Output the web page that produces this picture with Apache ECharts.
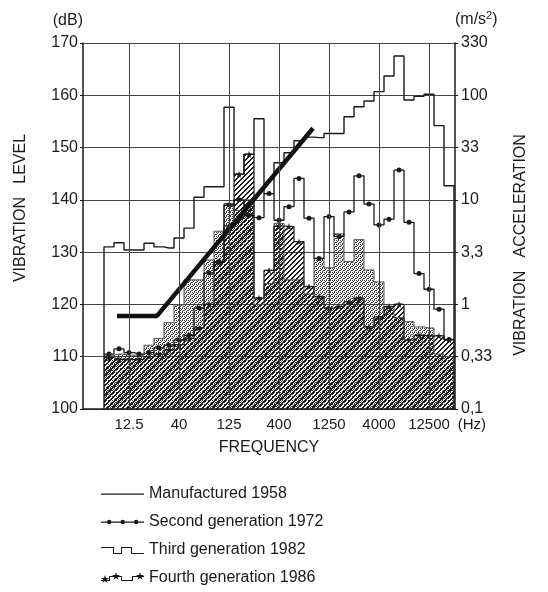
<!DOCTYPE html>
<html>
<head>
<meta charset="utf-8">
<script src="https://cdn.jsdelivr.net/npm/echarts@6/dist/echarts.min.js"></script>
<style>
  html, body { margin: 0; padding: 0; background: #fff; }
  #chart { width: 548px; height: 592px; }
</style>
</head>
<body>
<div id="chart"></div>
<script>
// 1/3 octave band numbers, centre freq = 10^(n/10) Hz  (8 Hz .. 20 kHz)
var bands = [9, 10, 11, 12, 13, 14, 15, 16, 17, 18, 19, 20, 21, 22, 23, 24, 25, 26,
  27, 28, 29, 30, 31, 32, 33, 34, 35, 36, 37, 38, 39, 40, 41, 42, 43]
var tickBands = [11, 16, 21, 26, 31, 36, 41]
var tickLabels = ['12.5', '40', '125', '400', '1250', '4000', '12500']
var freqUnit = '(Hz)'
var accelLabels = ['0,1', '0,33', '1', '3,3', '10', '33', '100', '330']

// levels in dB per band
var manufactured1958 = [131.0, 131.8, 130.4, 130.4, 131.7, 131.0, 130.8, 132.7, 134.6, 140.5,
  142.5, 142.5, 157.7, 144.9, 148.7, 155.5, 141.2, 147.1, 149.0, 151.3,
  152.0, 151.9, 152.7, 152.7, 155.9, 157.8, 158.9, 160.7, 163.7, 167.5,
  159.1, 159.8, 160.2, 154.2, 142.7]
var second1972 = [110.5, 111.5, 110.8, 110.5, 110.8, 111.7, 112.2, 113.2, 114.1, 119.3,
  126.0, 128.2, 139.0, 140.0, 137.0, 136.6, 141.2, 136.1, 138.7, 144.1,
  136.5, 128.8, 136.8, 133.0, 137.7, 144.6, 139.2, 135.2, 136.3, 145.7,
  135.7, 125.9, 122.9, 119.1, 113.3]
var third1982 = [110.3, 110.5, 110.3, 110.3, 112.2, 113.5, 116.5, 119.9, 124.7, 124.7,
  128.5, 134.0, 139.3, 138.0, 140.0, 120.0, 124.0, 135.5, 124.7, 124.7,
  122.0, 128.8, 127.0, 133.5, 128.2, 132.4, 126.6, 124.3, 119.5, 117.5,
  116.7, 115.7, 115.5, 110.5, 110.0]
var fourth1986 = [109.8, 109.5, 109.5, 109.5, 110.0, 110.5, 111.3, 112.3, 113.5, 115.5,
  120.0, 128.0, 135.0, 144.9, 148.7, 121.2, 126.5, 135.0, 134.9, 132.0,
  123.4, 121.5, 119.3, 119.6, 120.5, 121.2, 115.7, 117.6, 119.6, 120.0,
  113.2, 114.1, 114.0, 114.0, 113.2]

// bold straight line
var limitBands = [9.8, 13.8, 29.4]
var limitLevels = [117.8, 117.8, 153.7]

var yMin = 100
var yMax = 170

// fill patterns
function makePattern(size, draw) {
  var c = document.createElement('canvas')
  c.width = size
  c.height = size
  var ctx = c.getContext('2d')
  draw(ctx, size)
  return { image: c, repeat: 'repeat' }
}
var stipple = makePattern(4, function(ctx) {
  ctx.fillStyle = '#333'
  var dots = [[0, 0], [2, 0], [1, 1], [3, 2], [0, 2], [2, 3]]
  dots.forEach(function(d) { ctx.fillRect(d[0], d[1], 1, 1) })
})
var hatch = makePattern(5, function(ctx, s) {
  ctx.fillStyle = '#1a1a1a'
  for (var i = 0; i < s; i++) {
    ctx.fillRect(i, s - 1 - i, 1, 1)
    ctx.fillRect((i + 1) % s, s - 1 - i, 1, 1)
  }
})

function stepData(values, closed) {
  var first = bands[0] - 0.5
  var last = bands[bands.length - 1] + 0.5
  var pts = []
  if (closed) pts.push({ value: [first, yMin], symbol: 'none' })
  pts.push({ value: [first, values[0]], symbol: 'none' })
  bands.forEach(function(b, i) { pts.push([b, values[i]]) })
  pts.push({ value: [last, values[values.length - 1]], symbol: 'none' })
  if (closed) pts.push({ value: [last, yMin], symbol: 'none' })
  return pts
}

var star = 'path://M50,0 L61,35 L98,35 L68,57 L79,91 L50,70 L21,91 L32,57 L2,35 L39,35 Z'
var frame = 'M0,0 L0,0 M43,12 L43,12 '
var icons = {
  line: 'path://' + frame + 'M0,5.5 L43,5.5 L43,6.7 L0,6.7 Z',
  dots: 'path://' + frame + 'M0,5.5 L43,5.5 L43,6.7 L0,6.7 Z ' +
    'M6,6 a2.2,2.2 0 1,1 4.4,0 a2.2,2.2 0 1,1 -4.4,0 ' +
    'M19.5,6 a2.2,2.2 0 1,1 4.4,0 a2.2,2.2 0 1,1 -4.4,0 ' +
    'M33,6 a2.2,2.2 0 1,1 4.4,0 a2.2,2.2 0 1,1 -4.4,0',
  steps: 'path://' + frame + 'M0,3 L13,3 L13,9 L20,9 L20,3 L31,3 L31,9 L43,9 L43,10 L30,10 L30,4 L21,4 L21,10 L12,10 L12,4 L0,4 Z',
  stars: 'path://' + frame + 'M0,8 L8,8 L8,4 L21,4 L21,8 L31,8 L31,4 L43,4 L43,5 L32,5 L32,9 L20,9 L20,5 L9,5 L9,9 L0,9 Z ' +
    'M4,3 L5,6 L8,6 L5.5,8 L6.5,11 L4,9 L1.5,11 L2.5,8 L0,6 L3,6 Z ' +
    'M15,0 L16,3 L19,3 L16.5,5 L17.5,8 L15,6 L12.5,8 L13.5,5 L11,3 L14,3 Z ' +
    'M39,0 L40,3 L43,3 L40.5,5 L41.5,8 L39,6 L36.5,8 L37.5,5 L35,3 L38,3 Z'
}

var font = 'Liberation Sans'
var ink = '#1a1a1a'

var chart = echarts.init(document.getElementById('chart'))

var option = {
  animation: false,
  textStyle: { fontFamily: font, color: ink },
  grid: { left: 83, right: 93, top: 43, bottom: 183 },
  legend: {
    orient: 'vertical',
    left: 101,
    top: 485,
    padding: 0,
    itemWidth: 43,
    itemHeight: 12,
    itemGap: 10,
    selectedMode: false,
    textStyle: { fontSize: 16, color: ink, lineHeight: 18 },
    data: [
      { name: 'Manufactured 1958', icon: icons.line, itemStyle: { color: ink, borderWidth: 0 } },
      { name: 'Second generation 1972', icon: icons.dots, itemStyle: { color: ink, borderWidth: 0 } },
      { name: 'Third generation 1982', icon: icons.steps, itemStyle: { color: ink, borderWidth: 0 } },
      { name: 'Fourth generation 1986', icon: icons.stars, itemStyle: { color: ink, borderWidth: 0 } }
    ]
  },
  xAxis: {
    type: 'value',
    min: 6.4,
    max: 43.6,
    axisLine: { lineStyle: { color: ink, width: 1.5 } },
    axisTick: { show: false },
    splitLine: { show: false },
    axisLabel: {
      customValues: tickBands.concat([43.58]),
      fontSize: 15,
      color: ink,
      margin: 8,
      formatter: function(v) {
        var i = tickBands.indexOf(v)
        return i >= 0 ? tickLabels[i] : '{hz|' + freqUnit + '}'
      },
      rich: { hz: { fontSize: 15, color: ink, padding: [0, 0, 0, 34] } }
    },
    name: 'FREQUENCY',
    nameLocation: 'middle',
    nameGap: 31,
    nameTextStyle: { fontSize: 16, color: ink }
  },
  yAxis: [{
    type: 'value',
    position: 'left',
    min: yMin,
    max: yMax,
    interval: 10,
    axisLine: { show: true, lineStyle: { color: ink, width: 1.5 } },
    axisTick: { show: true, length: 3, lineStyle: { color: ink } },
    axisLabel: { fontSize: 16, color: ink, margin: 5 },
    splitLine: { lineStyle: { color: '#444', width: 1 } },
    name: '(dB)',
    nameLocation: 'end',
    nameGap: 14,
    nameTextStyle: { fontSize: 16, color: ink, align: 'right' }
  }, {
    type: 'value',
    position: 'right',
    min: yMin,
    max: yMax,
    interval: 10,
    axisLine: { show: true, lineStyle: { color: ink, width: 1.5 } },
    axisTick: { show: true, length: 3, lineStyle: { color: ink } },
    axisLabel: {
      fontSize: 16,
      color: ink,
      margin: 6,
      formatter: function(v) { return accelLabels[Math.round((v - yMin) / 10)] }
    },
    splitLine: { show: false },
    name: '(m/s{sup|2})',
    nameLocation: 'end',
    nameGap: 14,
    nameTextStyle: {
      fontSize: 16, color: ink, align: 'left',
      rich: { sup: { fontSize: 11, color: ink, verticalAlign: 'top', padding: [0, 0, 8, 0] } }
    }
  }, {
    type: 'value',
    position: 'left',
    min: yMin,
    max: yMax,
    axisLine: { show: false },
    axisTick: { show: false },
    axisLabel: { show: false },
    splitLine: { show: false },
    name: 'VIBRATION   LEVEL',
    nameLocation: 'middle',
    nameRotate: 90,
    nameGap: 54,
    nameTextStyle: { fontSize: 16, color: ink, padding: [0, 0, 0, 36] }
  }, {
    type: 'value',
    position: 'right',
    min: yMin,
    max: yMax,
    axisLine: { show: false },
    axisTick: { show: false },
    axisLabel: { show: false },
    splitLine: { show: false },
    name: 'VIBRATION   ACCELERATION',
    nameLocation: 'middle',
    nameRotate: 90,
    nameGap: 58,
    nameTextStyle: { fontSize: 16, color: ink, padding: [0, 38, 0, 0] }
  }],
  series: [{
    name: 'Third generation 1982',
    type: 'line',
    step: 'middle',
    data: stepData(third1982, false),
    showSymbol: false,
    lineStyle: { color: '#555', width: 1 },
    itemStyle: { color: ink },
    areaStyle: { color: stipple, opacity: 1, origin: 'start' }
  }, {
    name: 'Fourth generation 1986',
    type: 'line',
    step: 'middle',
    data: stepData(fourth1986, false),
    symbol: star,
    symbolSize: 7,
    showAllSymbol: true,
    lineStyle: { color: ink, width: 1.2 },
    itemStyle: { color: ink },
    areaStyle: { color: hatch, opacity: 1, origin: 'start' }
  }, {
    name: 'Manufactured 1958',
    type: 'line',
    step: 'middle',
    data: stepData(manufactured1958, true),
    showSymbol: false,
    lineStyle: { color: ink, width: 1.4 },
    itemStyle: { color: ink },
    markLine: {
      silent: true,
      symbol: ['none', 'none'],
      label: { show: false },
      lineStyle: { color: '#444', width: 1, type: 'solid' },
      data: tickBands.map(function(b) { return { xAxis: b } })
    }
  }, {
    name: 'Second generation 1972',
    type: 'line',
    step: 'middle',
    data: stepData(second1972, false),
    symbol: 'circle',
    symbolSize: 5,
    showAllSymbol: true,
    lineStyle: { color: ink, width: 1.3 },
    itemStyle: { color: ink }
  }, {
    name: 'limit',
    type: 'line',
    data: limitBands.map(function(b, i) { return [b, limitLevels[i]] }),
    showSymbol: false,
    lineStyle: { color: '#111', width: 4.5 },
    itemStyle: { color: '#111' }
  }]
}

chart.setOption(option)
</script>
</body>
</html>
